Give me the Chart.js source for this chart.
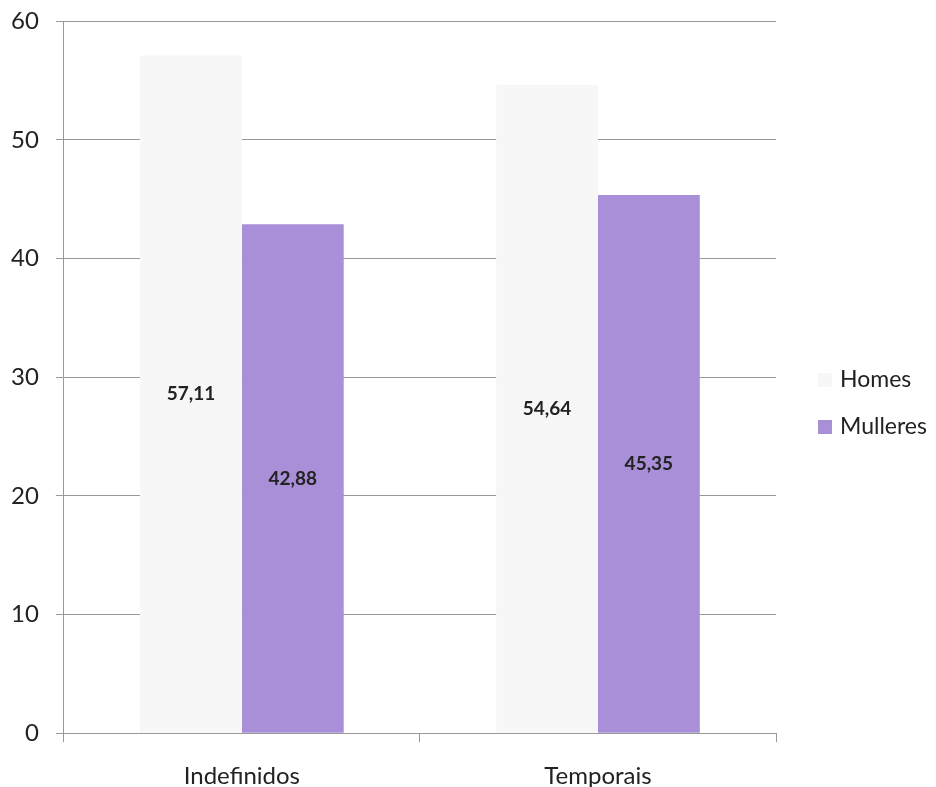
<!DOCTYPE html>
<html lang="gl">
<head>
    <meta charset="UTF-8">
    <title>Homes e Mulleres por tipo de contrato</title>
    <script src="https://cdn.jsdelivr.net/npm/chart.js@4.4.0/dist/chart.umd.min.js"></script>
    <style>
        html, body {
            margin: 0;
            padding: 0;
            background: #ffffff;
        }
        .chart-wrap {
            position: relative;
            width: 936px;
            height: 787px;
        }
    </style>
</head>
<body>
    <div class="chart-wrap">
        <canvas id="chart"></canvas>
    </div>

    <script>
        // Datos
        const categories = ['Indefinidos', 'Temporais'];
        const seriesNames = ['Homes', 'Mulleres'];
        const homesValues = [57.11, 54.64];
        const mulleresValues = [42.88, 45.35];
        const yTicks = [0, 10, 20, 30, 40, 50, 60];

        const colors = ['#f7f7f7', 'rgb(168,143,216)'];
        const FONT = 'Lato, "Open Sans", sans-serif';

        // Etiquetas de valor no centro de cada barra
        const valueLabels = {
            id: 'valueLabels',
            afterDatasetsDraw(chart) {
                const ctx = chart.ctx;
                ctx.save();
                ctx.font = 'bold 19px ' + FONT;
                ctx.fillStyle = '#222222';
                ctx.textAlign = 'center';
                ctx.textBaseline = 'middle';
                chart.data.datasets.forEach((ds, i) => {
                    chart.getDatasetMeta(i).data.forEach((bar, j) => {
                        const txt = ds.data[j].toFixed(2).replace('.', ',');
                        ctx.fillText(txt, bar.x, (bar.y + bar.base) / 2);
                    });
                });
                ctx.restore();
            }
        };

        // Lenda á dereita
        const sideLegend = {
            id: 'sideLegend',
            afterDraw(chart, args, opts) {
                const ctx = chart.ctx;
                const area = chart.chartArea;
                ctx.save();
                ctx.font = '23px ' + FONT;
                ctx.textBaseline = 'middle';
                chart.data.datasets.forEach((ds, i) => {
                    const y = opts.top + i * opts.gap;
                    const x = area.right + opts.offset;
                    ctx.fillStyle = ds.backgroundColor;
                    ctx.fillRect(x, y - 7, 14, 14);
                    ctx.fillStyle = '#222222';
                    ctx.fillText(ds.label, x + 22, y);
                });
                ctx.restore();
            }
        };

        const ctx = document.getElementById('chart').getContext('2d');
        new Chart(ctx, {
            type: 'bar',
            data: {
                labels: categories,
                datasets: [{
                    label: seriesNames[0],
                    data: homesValues,
                    backgroundColor: colors[0],
                    borderWidth: 0
                }, {
                    label: seriesNames[1],
                    data: mulleresValues,
                    backgroundColor: colors[1],
                    borderWidth: 0
                }]
            },
            options: {
                responsive: true,
                maintainAspectRatio: false,
                animation: false,
                layout: {
                    padding: { top: 0, right: 160, bottom: -24, left: -6 }
                },
                datasets: {
                    bar: {
                        categoryPercentage: 0.572,
                        barPercentage: 1.0
                    }
                },
                plugins: {
                    legend: { display: false },
                    tooltip: { enabled: false },
                    sideLegend: { top: 380, gap: 47, offset: 42 }
                },
                scales: {
                    x: {
                        grid: {
                            offset: true,
                            drawOnChartArea: false,
                            drawTicks: true,
                            tickLength: 9,
                            color: '#999999'
                        },
                        border: { display: true, color: '#999999' },
                        ticks: {
                            color: '#222222',
                            padding: 20,
                            font: { family: FONT, size: 24 }
                        }
                    },
                    y: {
                        min: 0,
                        max: 60,
                        afterBuildTicks(scale) {
                            scale.ticks = yTicks.map(v => ({ value: v }));
                        },
                        grid: {
                            color: '#999999',
                            tickLength: 8
                        },
                        border: { display: true, color: '#999999' },
                        ticks: {
                            color: '#222222',
                            padding: 17,
                            // lineHeight pequeno: só reduce o espazo reservado arriba
                            font: { family: FONT, size: 24, lineHeight: 0.34 }
                        }
                    }
                }
            },
            plugins: [valueLabels, sideLegend]
        });
    </script>
</body>
</html>
